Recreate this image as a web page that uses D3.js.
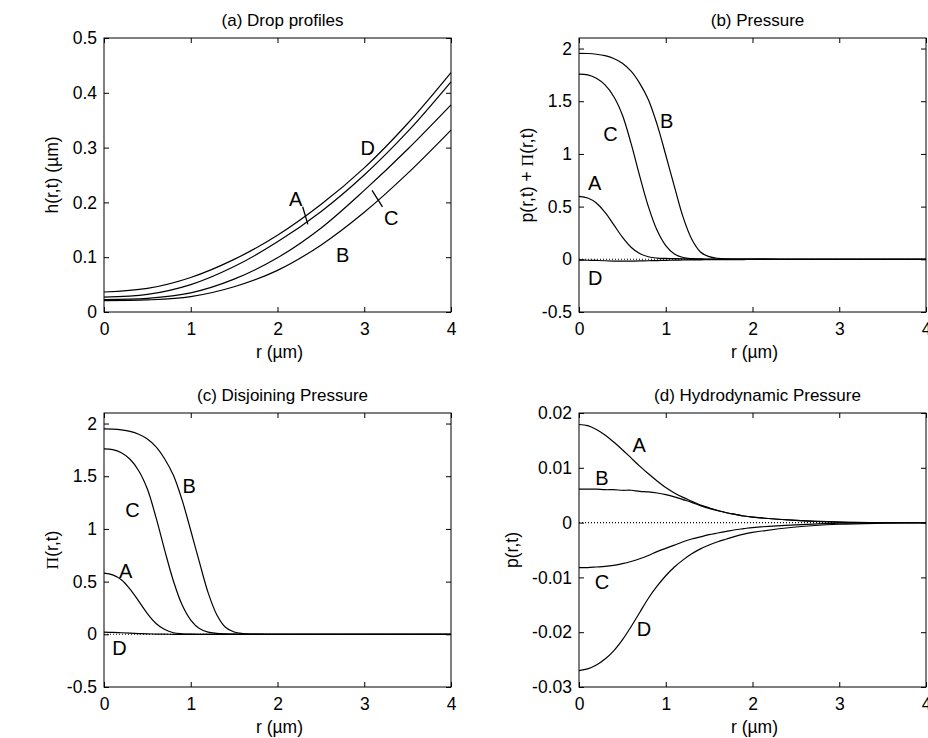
<!DOCTYPE html>
<html>
<head>
<meta charset="utf-8">
<script src="https://cdn.jsdelivr.net/npm/d3@7"></script>
<style>
  body { margin: 0; background: #fff; }
  svg text { font-family: "Liberation Sans", Arial, Helvetica, sans-serif; fill: #000; }
</style>
</head>
<body>
<div id="chart"></div>
<script>
// drop profile radii (um)
var rProfile = [0, 0.5, 1, 1.5, 2, 2.5, 3, 3.5, 4];
var hA = [0.0272, 0.032, 0.050, 0.083, 0.128, 0.183, 0.250, 0.329, 0.420];
var hB = [0.0208, 0.022, 0.028, 0.046, 0.076, 0.122, 0.182, 0.253, 0.332];
var hC = [0.0228, 0.025, 0.035, 0.060, 0.099, 0.153, 0.222, 0.297, 0.378];
var hD = [0.0365, 0.043, 0.063, 0.096, 0.140, 0.196, 0.263, 0.344, 0.437];

// radii for the pressure panels
var rGrid = [0, 0.1, 0.2, 0.3, 0.4, 0.5, 0.6, 0.7, 0.8, 0.9, 1.0, 1.1, 1.2, 1.3, 1.4, 1.5, 1.6, 1.7, 1.8, 1.9, 2.0, 2.5, 3.0, 3.5, 4.0];

// (b) p + Pi
var totA = [0.598, 0.582, 0.535, 0.445, 0.330, 0.210, 0.115, 0.055, 0.024, 0.012, 0.008, 0.0056, 0.0046, 0.0039, 0.0032, 0.0027, 0.0022, 0.0018, 0.0015, 0.0012, 0.0010, 0.0004, 0.0001, 0, 0];
var totB = [1.955, 1.953, 1.946, 1.932, 1.905, 1.860, 1.785, 1.670, 1.515, 1.280, 0.990, 0.690, 0.400, 0.190, 0.070, 0.025, 0.009, 0.004, 0.0025, 0.0015, 0.0010, 0.0004, 0.0001, 0, 0];
var totC = [1.758, 1.750, 1.718, 1.655, 1.545, 1.370, 1.100, 0.790, 0.500, 0.275, 0.130, 0.050, 0.017, 0.006, 0.002, -0.001, -0.0015, -0.0015, -0.0013, -0.0011, -0.0009, -0.0004, -0.0001, 0, 0];
var totD = [-0.007, -0.0087, -0.011, -0.0139, -0.0164, -0.0174, -0.017, -0.0154, -0.0138, -0.0116, -0.0097, -0.0081, -0.0068, -0.0057, -0.0048, -0.0041, -0.0035, -0.0030, -0.0025, -0.0021, -0.0018, -0.0008, -0.0003, -0.0001, 0];

// (c) disjoining pressure
var disA = [0.580, 0.564, 0.518, 0.429, 0.315, 0.197, 0.103, 0.045, 0.015, 0.005, 0.001, 0, 0, 0, 0, 0, 0, 0, 0, 0, 0, 0, 0, 0, 0];
var disB = [1.949, 1.947, 1.940, 1.926, 1.899, 1.854, 1.779, 1.664, 1.509, 1.275, 0.985, 0.685, 0.396, 0.186, 0.067, 0.022, 0.007, 0.002, 0.001, 0, 0, 0, 0, 0, 0];
var disC = [1.760, 1.752, 1.722, 1.661, 1.552, 1.378, 1.107, 0.797, 0.506, 0.280, 0.135, 0.054, 0.020, 0.009, 0.004, 0.001, 0, 0, 0, 0, 0, 0, 0, 0, 0];
var disD = [0.020, 0.018, 0.015, 0.011, 0.007, 0.004, 0.002, 0.001, 0, 0, 0, 0, 0, 0, 0, 0, 0, 0, 0, 0, 0, 0, 0, 0, 0];

// (d) hydrodynamic pressure
var hydA = [0.0179, 0.0177, 0.0170, 0.0160, 0.0147, 0.0133, 0.0118, 0.0103, 0.0089, 0.0076, 0.0064, 0.0054, 0.0046, 0.0039, 0.0032, 0.0027, 0.0022, 0.0018, 0.0015, 0.0012, 0.0010, 0.0004, 0.0001, 0, 0];
var hydB = [0.0061, 0.0061, 0.0061, 0.0060, 0.0060, 0.0059, 0.0059, 0.0057, 0.0056, 0.0054, 0.0051, 0.0047, 0.0042, 0.0037, 0.0031, 0.0026, 0.0022, 0.0018, 0.0015, 0.0012, 0.0010, 0.0004, 0.0001, 0, 0];
var hydC = [-0.0082, -0.0082, -0.0081, -0.0080, -0.0078, -0.0075, -0.0071, -0.0066, -0.0060, -0.0053, -0.0047, -0.0041, -0.0035, -0.0030, -0.0026, -0.0022, -0.0019, -0.0016, -0.0013, -0.0011, -0.0009, -0.0004, -0.0001, 0, 0];
var hydD = [-0.0270, -0.0267, -0.0260, -0.0249, -0.0234, -0.0214, -0.0190, -0.0164, -0.0138, -0.0116, -0.0097, -0.0081, -0.0068, -0.0057, -0.0048, -0.0041, -0.0035, -0.0030, -0.0025, -0.0021, -0.0018, -0.0008, -0.0003, -0.0001, 0];

// ticks
var xTicks = [0, 1, 2, 3, 4];
var xTickLabels = ["0", "1", "2", "3", "4"];
var yTicksA = [0, 0.1, 0.2, 0.3, 0.4, 0.5];
var yTickLabelsA = ["0", "0.1", "0.2", "0.3", "0.4", "0.5"];
var yTicksP = [-0.5, 0, 0.5, 1, 1.5, 2];
var yTickLabelsP = ["-0.5", "0", "0.5", "1", "1.5", "2"];
var yTicksD = [-0.03, -0.02, -0.01, 0, 0.01, 0.02];
var yTickLabelsD = ["-0.03", "-0.02", "-0.01", "0", "0.01", "0.02"];

var width = 928, height = 738;
var svg = d3.select('#chart').append('svg')
	.attr('width', width)
	.attr('height', height)
	.style('background', '#fff');

function drawPanel(p) {
	var x = d3.scaleLinear().domain([0, 4]).range([p.left, p.left + 347]);
	var y = d3.scaleLinear().domain(p.yDomain).range([p.top + 274, p.top]);
	var g = svg.append('g');

	var line = d3.line()
		.x(function(d) { return x(d[0]); })
		.y(function(d) { return y(d[1]); })
		.curve(d3.curveCatmullRom);

	if (p.zeroLine) {
		g.append('line')
			.attr('x1', x(0)).attr('x2', x(4))
			.attr('y1', y(0)).attr('y2', y(0))
			.attr('stroke', '#000')
			.attr('stroke-width', 1.1)
			.attr('stroke-dasharray', '1,2');
	}

	p.series.forEach(function(s) {
		var pts = p.r.map(function(r, i) { return [r, s[i]]; });
		g.append('path')
			.attr('d', line(pts))
			.attr('fill', 'none')
			.attr('stroke', '#000')
			.attr('stroke-width', 1.2);
	});

	// axes, ticks pointing inwards on all four sides
	var fmtX = function(d, i) { return xTickLabels[i]; };
	var fmtY = function(d, i) { return p.yLabels[i]; };
	g.append('g')
		.attr('transform', 'translate(0,' + (p.top + 274) + ')')
		.call(d3.axisBottom(x).tickValues(xTicks).tickFormat(fmtX).tickSizeInner(-5).tickSizeOuter(0).tickPadding(11));
	g.append('g')
		.attr('transform', 'translate(' + p.left + ',0)')
		.call(d3.axisLeft(y).tickValues(p.yTicks).tickFormat(fmtY).tickSizeInner(-5).tickSizeOuter(0).tickPadding(7));
	g.append('g')
		.attr('transform', 'translate(0,' + p.top + ')')
		.call(d3.axisTop(x).tickValues(xTicks).tickFormat('').tickSizeInner(-5).tickSizeOuter(0));
	g.append('g')
		.attr('transform', 'translate(' + (p.left + 347) + ',0)')
		.call(d3.axisRight(y).tickValues(p.yTicks).tickFormat('').tickSizeInner(-5).tickSizeOuter(0));
	g.selectAll('.domain').remove();
	g.selectAll('.tick line').attr('stroke', '#000');
	g.selectAll('.tick text').style('font-size', '17.5px').attr('fill', '#000');

	g.append('rect')
		.attr('x', p.left).attr('y', p.top)
		.attr('width', 347).attr('height', 274)
		.attr('fill', 'none')
		.attr('stroke', '#000')
		.attr('stroke-width', 1);

	g.append('text')
		.attr('x', p.left + 347 / 2 + 5)
		.attr('y', p.top - 12)
		.attr('text-anchor', 'middle')
		.style('font-size', '17px')
		.text(p.title);

	g.append('text')
		.attr('x', p.left + 347 / 2 + 2)
		.attr('y', p.top + 274 + 46)
		.attr('text-anchor', 'middle')
		.style('font-size', '17.5px')
		.text('r (\u00b5m)');

	var yl = g.append('text')
		.attr('transform', 'translate(' + (p.left - p.yLabelOff) + ',' + (p.top + 137) + ') rotate(-90)')
		.attr('text-anchor', 'middle')
		.style('font-size', '17.5px');
	p.yLabel.forEach(function(part) {
		var t = yl.append('tspan').text(part[0]);
		if (part[1]) t.style('font-family', '"Liberation Serif", "Times New Roman", serif');
	});

	p.tags.forEach(function(t) {
		g.append('text')
			.attr('x', x(t[1]))
			.attr('y', y(t[2]))
			.attr('dy', '0.36em')
			.attr('text-anchor', 'middle')
			.style('font-size', '20px')
			.text(t[0]);
	});

	(p.leaders || []).forEach(function(l) {
		g.append('line')
			.attr('x1', x(l[0])).attr('y1', y(l[1]))
			.attr('x2', x(l[2])).attr('y2', y(l[3]))
			.attr('stroke', '#000')
			.attr('stroke-width', 1.3);
	});
}

drawPanel({
	left: 104, top: 38, yDomain: [0, 0.5],
	yTicks: yTicksA, yLabels: yTickLabelsA,
	title: '(a) Drop profiles',
	yLabel: [['h(r,t) (\u00b5m)']], yLabelOff: 46,
	r: rProfile, series: [hA, hB, hC, hD],
	tags: [['D', 3.04, 0.30], ['A', 2.21, 0.207], ['C', 3.31, 0.171], ['B', 2.75, 0.105]],
	leaders: [[2.29, 0.192, 2.35, 0.160], [3.09, 0.222, 3.21, 0.192]]
});

drawPanel({
	left: 579, top: 38, yDomain: [-0.5, 2.1],
	yTicks: yTicksP, yLabels: yTickLabelsP,
	title: '(b) Pressure',
	yLabel: [['p(r,t) + '], ['\u03a0', true], ['(r,t)']], yLabelOff: 46,
	r: rGrid, series: [totA, totB, totC, totD], zeroLine: true,
	tags: [['B', 1.01, 1.317], ['C', 0.363, 1.19], ['A', 0.181, 0.729], ['D', 0.187, -0.173]]
});

drawPanel({
	left: 104, top: 413, yDomain: [-0.5, 2.1],
	yTicks: yTicksP, yLabels: yTickLabelsP,
	title: '(c) Disjoining Pressure',
	yLabel: [['\u03a0', true], ['(r,t)']], yLabelOff: 46,
	r: rGrid, series: [disA, disB, disC, disD], zeroLine: true,
	tags: [['B', 0.982, 1.406], ['C', 0.329, 1.184], ['A', 0.251, 0.607], ['D', 0.179, -0.128]]
});

drawPanel({
	left: 579, top: 413, yDomain: [-0.03, 0.02],
	yTicks: yTicksD, yLabels: yTickLabelsD,
	title: '(d) Hydrodynamic Pressure',
	yLabel: [['p(r,t)']], yLabelOff: 61,
	r: rGrid, series: [hydA, hydB, hydC, hydD], zeroLine: true,
	tags: [['A', 0.694, 0.01416], ['B', 0.264, 0.00818], ['C', 0.264, -0.01084], ['D', 0.748, -0.01942]]
});
</script>
</body>
</html>
